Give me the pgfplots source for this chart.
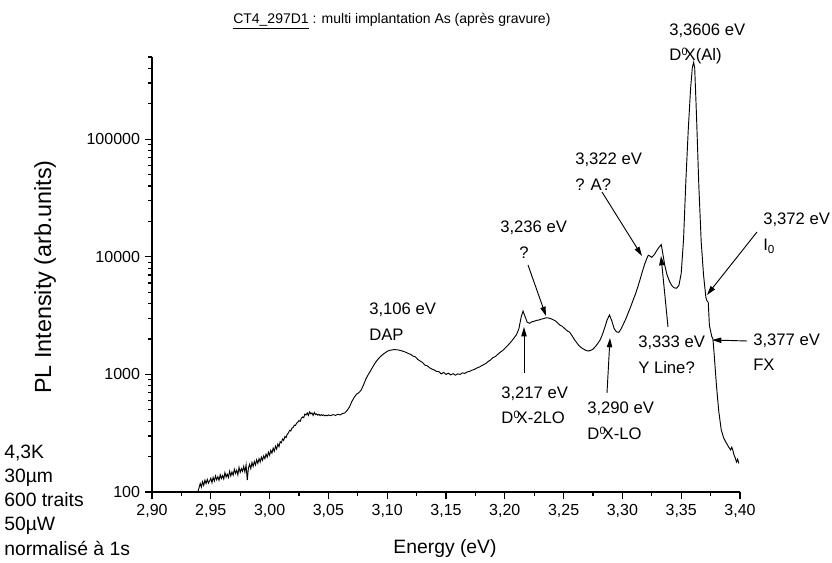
\documentclass[border=0pt]{standalone}
\usepackage{pgfplots}
\pgfplotsset{compat=1.18}
\usepackage{pgfplotstable}
\usepackage{fontspec}
\setmainfont{Liberation Sans}
\usetikzlibrary{arrows.meta}
\newcommand\dox{D\kern0.3pt\raisebox{0.62ex}{\fontsize{8}{8}\selectfont 0}\kern-2.2pt X}
\pgfplotstableread{
x y
2.9390 100
2.941 118
2.942 110
2.943 122
2.944 114
2.945 126
2.946 118
2.947 128
2.948 119
2.949 124
2.950 131
2.951 120
2.952 133
2.953 124
2.954 137
2.955 127
2.956 135
2.957 126
2.958 140
2.959 130
2.960 138
2.961 129
2.962 146
2.963 134
2.964 142
2.965 133
2.966 150
2.967 137
2.968 148
2.969 139
2.970 156
2.971 144
2.972 153
2.973 140
2.974 162
2.975 147
2.976 158
2.977 150
2.978 165
2.979 148
2.980 170
2.981 126
2.982 160
2.983 172
2.984 158
2.985 178
2.986 165
2.987 182
2.988 170
2.989 188
2.990 175
2.991 192
2.992 180
2.993 198
2.994 186
2.995 203
2.996 192
2.997 210
2.998 198
2.999 218
3.000 205
3.001 226
3.002 214
3.003 236
3.004 222
3.005 245
3.006 232
3.007 256
3.008 243
3.009 268
3.010 262
3.011 282
3.012 275
3.013 296
3.014 290
3.015 310
3.016 318
3.017 335
3.018 330
3.019 350
3.020 352
3.021 370
3.022 368
3.023 385
3.024 392
3.025 405
3.026 398
3.027 425
3.028 435
3.029 428
3.030 460
3.031 452
3.032 470
3.033 448
3.034 480
3.035 462
3.036 470
3.037 448
3.038 475
3.039 455
3.040 462
3.041 450
3.042 458
3.043 446
3.044 455
3.045 448
3.046 452
3.047 444
3.048 450
3.049 445
3.050 452
3.052 446
3.054 455
3.056 448
3.058 458
3.060 452
3.062 465
3.064 470
3.066 495
3.068 530
3.070 590
3.072 640
3.074 680
3.076 700
3.078 740
3.080 820
3.082 920
3.084 1000
3.086 1080
3.088 1170
3.090 1260
3.092 1340
3.094 1410
3.096 1470
3.098 1520
3.100 1570
3.102 1600
3.104 1615
3.106 1625
3.108 1620
3.110 1610
3.112 1590
3.114 1565
3.116 1540
3.118 1505
3.120 1480
3.122 1430
3.124 1410
3.126 1340
3.128 1300
3.130 1265
3.132 1200
3.134 1185
3.136 1140
3.138 1110
3.140 1090
3.142 1060
3.144 1055
3.146 1010
3.148 1040
3.150 1000
3.152 1025
3.154 990
3.156 1015
3.158 985
3.160 1010
3.162 1000
3.164 1030
3.166 1020
3.168 1050
3.170 1060
3.172 1085
3.174 1100
3.176 1130
3.178 1150
3.180 1180
3.182 1210
3.184 1240
3.186 1290
3.188 1330
3.190 1390
3.192 1420
3.194 1480
3.196 1540
3.198 1590
3.200 1660
3.202 1740
3.204 1830
3.206 1930
3.208 2050
3.210 2180
3.212 2450
3.214 3100
3.2155 3450
3.217 3150
3.219 2780
3.221 2720
3.223 2800
3.225 2830
3.227 2880
3.229 2900
3.231 2950
3.233 2980
3.235 3030
3.237 3020
3.239 2980
3.241 2920
3.243 2850
3.245 2740
3.247 2620
3.249 2560
3.251 2450
3.253 2350
3.255 2290
3.257 2150
3.259 1990
3.261 1870
3.263 1760
3.265 1690
3.267 1640
3.269 1600
3.271 1580
3.273 1600
3.275 1640
3.277 1720
3.279 1830
3.281 1960
3.283 2180
3.285 2500
3.287 2900
3.289 3200
3.291 2850
3.293 2450
3.295 2300
3.297 2280
3.299 2450
3.301 2700
3.303 2980
3.305 3350
3.307 3750
3.309 4250
3.311 4800
3.313 5500
3.315 6400
3.317 7500
3.319 8700
3.321 9800
3.322 10300
3.323 10200
3.325 9900
3.327 10400
3.329 11200
3.331 12000
3.333 12700
3.334 11200
3.336 8500
3.338 7000
3.340 6200
3.342 5700
3.344 5450
3.346 5400
3.348 5700
3.350 7200
3.352 14000
3.354 45000
3.356 120000
3.358 270000
3.3595 410000
3.3606 450000
3.3615 400000
3.363 160000
3.365 40000
3.367 13500
3.369 7000
3.371 4500
3.372 4200
3.373 4100
3.374 2600
3.376 2100
3.377 2000
3.378 1500
3.380 800
3.382 480
3.384 340
3.386 290
3.388 265
3.390 245
3.392 228
3.393 240
3.394 225
3.395 205
3.396 195
3.397 180
3.398 190
3.399 175
}\spectrum
\begin{document}
\begin{tikzpicture}
\begin{scope}[shift={(-114pt,369pt)}, x=0.75pt, y=-0.75pt]
\path[use as bounding box] (0,0) rectangle (832,563);
\end{scope}
\begin{axis}[
  at={(0,0)}, anchor=south west,
  scale only axis, width=441pt, height=326.25pt,
  ymode=log, xmin=2.90, xmax=3.40, ymin=100, ymax=500000,
  axis x line*=bottom, axis y line*=left,
  axis line style={-, line width=1.1pt},
  tick align=outside, major tick length=5.5pt, minor tick length=3pt,
  every tick/.style={black, line width=1pt},
  xtick={2.90,2.95,3.00,3.05,3.10,3.15,3.20,3.25,3.30,3.35,3.40},
  minor xtick={2.925,2.975,3.025,3.075,3.125,3.175,3.225,3.275,3.325,3.375},
  ytick={100,1000,10000,100000},
  yticklabels={100,1000,10000,100000},
  minor ytick={200,300,400,500,600,700,800,900,2000,3000,4000,5000,6000,7000,8000,9000,20000,30000,40000,50000,60000,70000,80000,90000,200000,300000,400000,500000},
  xticklabel style={/pgf/number format/.cd, fixed, fixed zerofill, precision=2, use comma, assume math mode=true},
  ticklabel style={font=\fontsize{12}{14}\selectfont},
  clip=false,
]
\addplot[black, line width=0.7pt] table[x=x, y=y] {\spectrum};
\end{axis}
\begin{scope}[shift={(-114pt,369pt)}, x=0.75pt, y=-0.75pt,
  lab/.style={anchor=base west, inner sep=0pt, font=\fontsize{12.5}{15}\selectfont},
  arr/.style={line width=0.7pt, -{Triangle[length=7pt,width=4pt]}}]
% title
\node[anchor=base west, inner sep=0pt, font=\fontsize{10.5}{13}\selectfont] at (233,24) {\underline{CT4\_297D1} : multi implantation As (après gravure)};
% axis labels
\node[font=\fontsize{14.5}{17}\selectfont] at (445,549) {Energy (eV)};
\node[rotate=90, font=\fontsize{17.5}{20}\selectfont] at (45,277) {PL Intensity (arb.units)};
% notes
\begin{scope}[every node/.style={anchor=base west, inner sep=0pt, font=\fontsize{14.5}{17}\selectfont}]
\node at (4,459) {4,3K};
\node at (4,483) {30µm};
\node at (4,507) {600 traits};
\node at (4,531) {50µW};
\node at (4,556) {normalisé à 1s};
\end{scope}
% annotations
\node[lab] at (369,315) {3,106 eV};
\node[lab] at (369,341) {DAP};
\node[lab] at (500,233) {3,236 eV};
\node[lab] at (519,259) {?};
\node[lab] at (575,165) {3,322 eV};
\node[lab] at (575,191) {? A?};
\node[lab] at (669,36) {3,3606 eV};
\node[lab] at (669,61) {\dox(Al)};
\node[lab] at (763,225) {3,372 eV};
\node[lab] at (763,251) {I\textsubscript{0}};
\node[lab] at (638,348) {3,333 eV};
\node[lab] at (638,374) {Y Line?};
\node[lab] at (753,346) {3,377 eV};
\node[lab] at (753,371) {FX};
\node[lab] at (501,399) {3,217 eV};
\node[lab] at (501,424) {\dox-2LO};
\node[lab] at (587,414) {3,290 eV};
\node[lab] at (587,440) {\dox-LO};
% arrows
\draw[arr] (528,265) -- (546,316);
\draw[arr] (524,373) -- (524,327);
\draw[arr] (607,393) -- (610,338);
\draw[arr] (668,327) -- (661,256);
\draw[arr] (602,192) -- (642,256);
\draw[arr] (757,232) -- (707,295);
\draw[arr] (747,341) -- (712,340);
\end{scope}
\end{tikzpicture}
\end{document}
